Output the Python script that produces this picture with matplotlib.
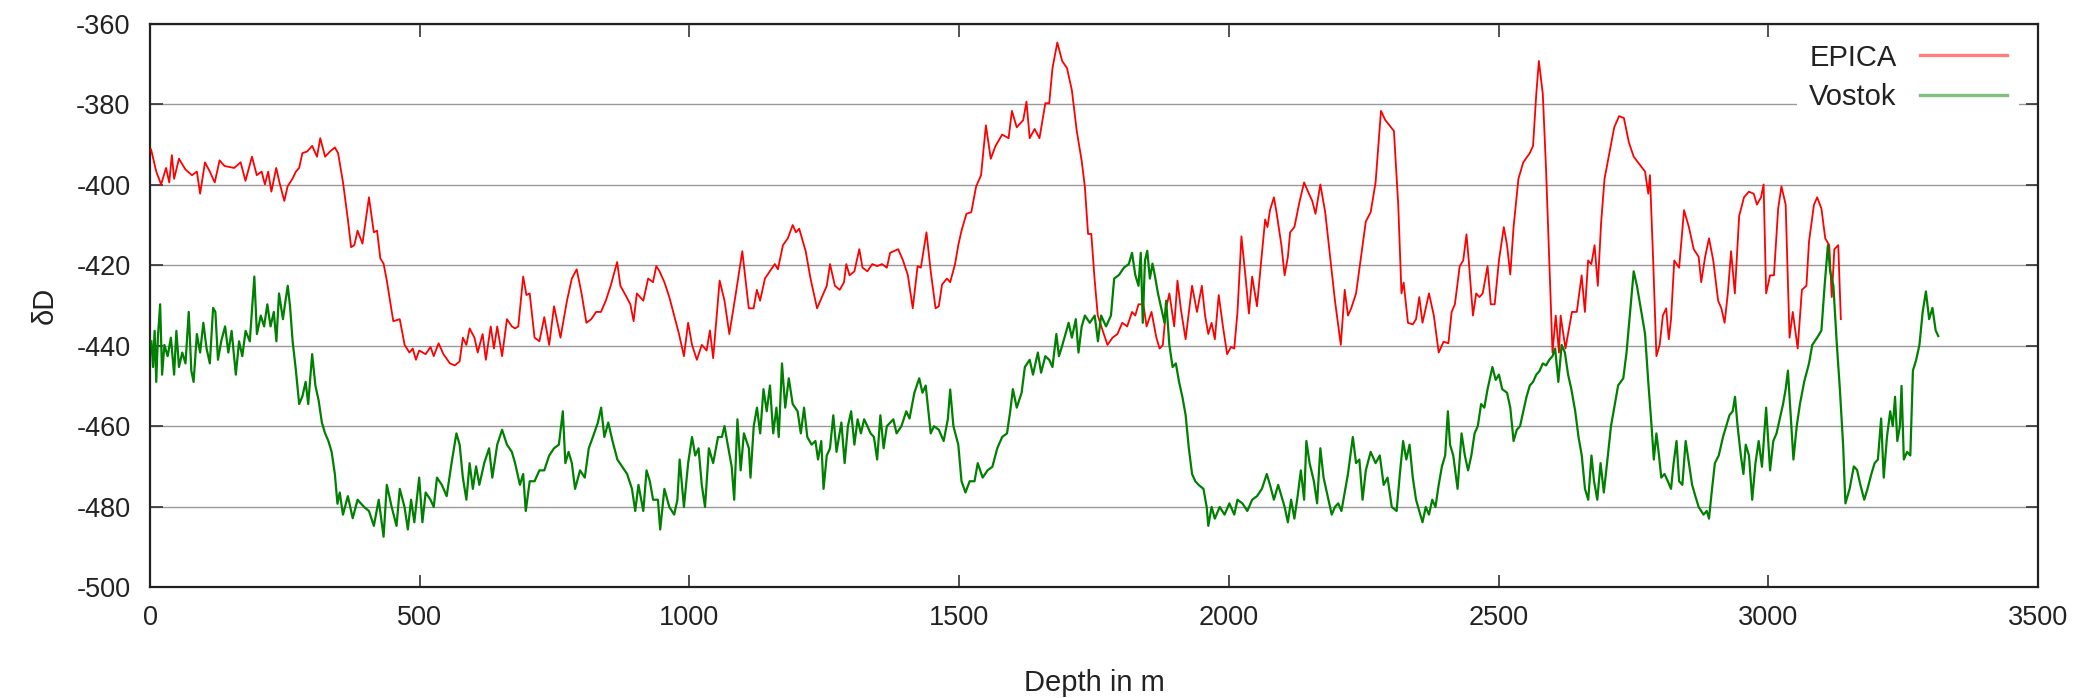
import matplotlib
matplotlib.use("Agg")
import matplotlib.pyplot as plt

plt.rcParams['font.family'] = ['Liberation Sans', 'DejaVu Sans']
plt.rcParams['axes.unicode_minus'] = False

# EPICA Dome C deuterium profile (depth in m, dD)
epica_depth = [
    2, 11.6, 20.6, 29.7, 35.7, 40.5, 44.7, 53.7, 65.8, 77.8, 86.9, 92.9, 101.9, 110.9, 120, 129, 138, 156, 168,
    177, 189, 198, 207, 213, 219, 225, 234, 240, 249, 255, 264, 270.5, 276.5, 282.5, 291.5, 300.6, 309.6, 315.6,
    324.6, 333.7, 342.7, 348.7, 357.8, 366.8, 372.8, 378.8, 384.8, 393.9, 405.9, 414.9, 420.9, 427, 433, 439, 445,
    451, 463, 472, 481, 487, 493, 499, 511, 520, 526, 535, 544, 556, 565, 574, 580, 586.5, 592.5, 601.5, 607.5,
    616.6, 622.6, 631.6, 637.6, 643.7, 652.7, 661.7, 670.8, 676.8, 682.8, 691.8, 697.8, 703.9, 712.9, 721.9, 730.9,
    740, 749, 761, 773, 782, 791, 800, 809, 818, 827, 836, 845, 854, 866, 872, 881.5, 890.5, 896.5, 902.5,
    914.5, 923.5, 932.5, 938.6, 944.6, 953.6, 962.7, 971.7, 980.7, 989.8, 997.6, 1004.8, 1013.8, 1022.9, 1031.9,
    1038, 1044, 1056, 1065, 1074, 1086, 1098, 1110, 1119, 1125, 1131, 1140, 1149, 1158.3, 1164, 1173.4, 1182.4,
    1191.4, 1197.5, 1203.5, 1215.5, 1224.5, 1236.6, 1245.6, 1254.6, 1260.6, 1269.7, 1278.7, 1286.6, 1290.8, 1296.8,
    1305.8, 1314.9, 1320.9, 1329.9, 1338.9, 1348, 1357, 1366, 1372, 1387, 1396, 1405, 1414, 1423, 1429, 1439.4,
    1447.3, 1456.3, 1462.3, 1468.3, 1477.4, 1483.4, 1492.4, 1498.4, 1504.4, 1513.5, 1522.5, 1531.5, 1540.6, 1549.6,
    1558.6, 1567.6, 1579.7, 1591.7, 1597.8, 1606.8, 1618.8, 1624.8, 1630.8, 1639.9, 1648.9, 1659.8, 1667, 1673,
    1682, 1691, 1700, 1709, 1718, 1727, 1733, 1739, 1745, 1751, 1757, 1766, 1775, 1784.4, 1793.4, 1802.4, 1811.5,
    1820.5, 1826.5, 1832.5, 1841.5, 1847.5, 1856.6, 1865.6, 1871.6, 1877.6, 1883.7, 1889.7, 1898.7, 1904.7, 1910.8,
    1919.8, 1931.8, 1940.9, 1949.9, 1955.9, 1961.9, 1968, 1974, 1981.2, 1989, 1996.8, 2004, 2010, 2016, 2023.3,
    2031.2, 2037.2, 2043.2, 2052.2, 2059.4, 2067.3, 2071.5, 2076.3, 2083.5, 2088.3, 2097.4, 2103.4, 2109.4, 2113.6,
    2121.5, 2130.5, 2139.5, 2148.5, 2154.6, 2160.6, 2169.6, 2178.6, 2187.7, 2196.7, 2207.5, 2214.8, 2220.8, 2226.8,
    2235.8, 2244.9, 2253.9, 2262.9, 2272, 2282, 2290, 2306, 2314, 2320, 2324, 2332, 2341, 2347, 2353, 2359, 2365,
    2371, 2380, 2389, 2398, 2407, 2413, 2419, 2428, 2434.5, 2440.5, 2444.7, 2452.5, 2458.5, 2464.6, 2470.6, 2479.6,
    2485.6, 2492.8, 2500.7, 2509.7, 2515.7, 2521.7, 2527.8, 2536.8, 2545.8, 2557.9, 2563.9, 2569.9, 2574.7, 2582,
    2588, 2594, 2600, 2606, 2612, 2615, 2624, 2636, 2645, 2654, 2660, 2666, 2672, 2678, 2684, 2690, 2696.4, 2705.4,
    2714.4, 2723.4, 2732.4, 2741.5, 2750.5, 2771.5, 2777.5, 2780.6, 2786.6, 2792.6, 2798.6, 2804.6, 2810.7, 2815.5,
    2819.7, 2825.7, 2834.7, 2843.8, 2852.8, 2861.8, 2870.9, 2875.7, 2882.9, 2890.1, 2898, 2907, 2913, 2919, 2925,
    2931, 2938, 2946, 2955, 2964, 2973, 2979, 2986.5, 2991.3, 2996, 3003.3, 3010.5, 3018.3, 3024.4, 3032.2, 3039.4,
    3045.4, 3054.5, 3062.3, 3070.7, 3075.5, 3084.6, 3090.6, 3098.5, 3105.6, 3113, 3117.7, 3122.5, 3129.7, 3134.5,
]
epica_dD = [
    -391.2, -396.7, -399.9, -395.8, -399.4, -392.6, -398.5, -393.5, -396.2, -397.6, -396.7, -402.2, -394.4, -396.7,
    -399.4, -393.9, -395.3, -395.8, -394.4, -399, -393, -397.6, -396.7, -399.9, -396.7, -401.7, -395.8, -399.4, -404,
    -400.4, -398.5, -396.7, -395.8, -392.1, -391.7, -390.3, -393, -388.4, -393, -391.7, -390.7, -392.1, -399.4,
    -408.6, -415.5, -415, -411.4, -414.6, -403.1, -411.8, -411.4, -418.3, -419.6, -423.8, -428.8, -433.9, -433.4,
    -439.8, -441.7, -440.7, -443.5, -441.2, -442.1, -440.3, -442.6, -439.4, -442.1, -444.4, -444.9, -443.9, -438,
    -439.8, -435.7, -438, -441.7, -437.1, -443.5, -435.2, -440.7, -435.2, -442.6, -433.4, -435.2, -435.7, -435.2,
    -422.8, -427.4, -427, -438, -438.9, -432.9, -439.8, -430.2, -438, -428.8, -423.3, -421, -427, -434.3, -433.4,
    -431.6, -431.6, -428.8, -425.1, -419.2, -425.1, -427.4, -429.7, -433.9, -427, -428.8, -423.3, -424.2, -420.2,
    -421.5, -424.2, -427.9, -432.5, -437.1, -442.6, -434.3, -439.8, -443.5, -439.8, -441.2, -436.2, -443.1, -423.8,
    -428.8, -437.1, -427, -416.5, -430.7, -430.7, -426.1, -428.8, -423.3, -421.5, -419.7, -421, -415, -413.3, -410,
    -411.8, -410.9, -416.5, -423.3, -430.7, -427.9, -425.1, -419.7, -425.1, -426.1, -424.2, -419.7, -422.5, -421.5,
    -416, -420.6, -421.5, -419.7, -420.2, -419.7, -420.6, -416.9, -416, -418.8, -422.5, -430.7, -420.2, -420.6,
    -411.8, -421.5, -430.7, -430.2, -424.8, -423.3, -424.2, -419.7, -415, -411.4, -407.2, -406.8, -400.4, -397.6,
    -385.2, -393.5, -390.3, -387.5, -388.4, -381.6, -385.7, -383.9, -379.3, -388.4, -386.1, -388.4, -379.7, -379.7,
    -371, -364.6, -369.2, -371, -376.5, -386.6, -393.9, -400.4, -412.2, -412.2, -423.3, -432.5, -436.2, -439.8,
    -438, -437.1, -434.3, -435.2, -431.6, -432.5, -429.7, -429.7, -435.2, -431.6, -438, -440.7, -439.8, -430.7,
    -427, -435.2, -423.8, -430.7, -438.4, -425.1, -431.6, -425.1, -432.5, -437.1, -434.3, -438.4, -427.4, -435.2,
    -442.1, -440.3, -440.7, -431.6, -412.8, -423.3, -432, -422.8, -430.2, -419.7, -408.6, -410.5, -406.3, -403.1,
    -406.8, -415, -422.5, -417.9, -411.8, -410.5, -404.5, -399.4, -402.2, -404, -407.2, -399.9, -406.8, -417.9,
    -428.8, -439.8, -426.1, -432.5, -430.7, -427, -417.9, -409.1, -406.8, -399.4, -381.6, -383.9, -386.6, -405,
    -427, -424.3, -434.3, -434.7, -433.4, -427.9, -434.3, -430.7, -427, -432.5, -441.7, -439, -439.4, -431.6,
    -429.7, -420.2, -418.8, -412.3, -418.8, -432.5, -427, -427.9, -427, -420.2, -429.7, -429.7, -418.8, -410.5,
    -415, -422.3, -410.5, -398.5, -394.4, -392.1, -390.3, -377.4, -369.2, -377.4, -396.1, -418.8, -441.7, -432.5,
    -441.7, -432.5, -440.7, -431.6, -431.6, -422.5, -431.6, -418.8, -419.7, -415, -425.1, -409.6, -398.5, -392.1,
    -385.7, -382.9, -383.4, -389.4, -393, -396.7, -402.2, -397.6, -418.8, -442.6, -439.8, -432.5, -430.7, -438.4,
    -433.4, -418.8, -420.6, -406.3, -410.5, -416, -417.9, -424.2, -417.9, -413.3, -418.8, -428.8, -430.7, -434.3,
    -427, -416.5, -427, -407.7, -403.1, -401.7, -402.2, -404.9, -403.1, -399.9, -427, -422.5, -422.5, -405.9,
    -400.4, -404.9, -438, -431.6, -440.7, -426.1, -425.1, -414.1, -405, -403.1, -405.9, -413.3, -415, -427.9, -416,
    -415, -433.4,
]

# Vostok deuterium profile (depth in m, dD)
vostok_depth = [
    2.6, 5.6, 8.6, 11.6, 14.6, 18.8, 22.4, 26.7, 32.7, 38.7, 44.7, 48.9, 53.7, 59.8, 65.8, 71.8, 76.6, 80.8, 86.9,
    92.9, 98.9, 104.9, 110.9, 117, 121.2, 126, 132, 139.2, 145.2, 151.3, 159.1, 165.1, 171.1, 177.2, 185, 193.4,
    198.2, 205.4, 211.5, 217.5, 223.5, 229.5, 234.3, 239.2, 246.4, 251.2, 255.4, 259.6, 264.4, 270.5, 276.5, 282.5,
    288.5, 293.3, 300.6, 306.6, 312.6, 318.6, 324.6, 330.7, 336.7, 342.7, 347.5, 351.7, 357.7, 366.8, 375.8, 384.8,
    396.9, 405.9, 415, 424, 433, 439, 448, 457, 463, 472, 478, 484, 490, 499, 505, 511, 520, 526, 532, 541, 550,
    559, 568, 574, 580, 586.5, 592.5, 598.5, 604.5, 610.5, 619.6, 628.6, 634.6, 643.7, 652.7, 661.7, 670.8, 676.8,
    685.8, 691.8, 696.6, 703.9, 712.9, 721.9, 730.9, 740, 749, 758, 765.3, 770, 776, 782, 788, 797.2, 806, 813.4,
    821, 830.3, 836.3, 842.3, 849.5, 857.4, 866.4, 875.4, 884.5, 893.5, 899.5, 905.5, 914.5, 920.5, 926.6, 932.6,
    941.6, 945.8, 953.6, 962.7, 971.7, 977.7, 981.9, 989.8, 997.6, 1004.8, 1010.8, 1016.9, 1022.9, 1028.9, 1036.1,
    1044, 1053, 1060.2, 1065, 1071, 1078.3, 1083, 1089, 1095, 1101, 1110.2, 1113.2, 1119.2, 1125.2, 1131.2, 1137.3,
    1143.3, 1149.3, 1155.3, 1161.3, 1165.6, 1171.6, 1177.6, 1184.2, 1191.4, 1200.5, 1206.5, 1212.5, 1218.5, 1226.4,
    1233.6, 1238.4, 1244.4, 1248.6, 1254.6, 1260.6, 1266.7, 1272.7, 1281.7, 1287.7, 1293.8, 1299.8, 1305.8, 1311.8,
    1317.9, 1323.9, 1329.9, 1335.9, 1342, 1348, 1354, 1360, 1366, 1378, 1384, 1393, 1402, 1408, 1417, 1426, 1432,
    1438, 1447.3, 1453.3, 1462.3, 1471.3, 1479, 1483.4, 1489.4, 1498.4, 1504.4, 1511.7, 1519.5, 1528.5, 1534.5,
    1543.6, 1552.6, 1561.6, 1570.7, 1579.7, 1588.7, 1594.7, 1599.6, 1606.8, 1615.8, 1621.8, 1630.8, 1636.9, 1645.9,
    1651.9, 1659.8, 1667, 1673, 1680.2, 1685, 1691, 1697, 1703, 1709, 1716.3, 1721.2, 1727.2, 1733.2, 1742.2,
    1751.3, 1757.3, 1763.3, 1772.3, 1781.4, 1787.4, 1796.4, 1805.4, 1814.5, 1820.5, 1826.5, 1832.5, 1836.7, 1840.4,
    1844.5, 1848.7, 1853.6, 1858.4, 1862.6, 1868.6, 1874.6, 1880.7, 1883.7, 1889.7, 1895.7, 1901.7, 1907.7, 1913.8,
    1919.8, 1925.8, 1931.8, 1937.8, 1943.9, 1952.9, 1958.9, 1961.9, 1968, 1974, 1983, 1992, 2001, 2010, 2016,
    2025.1, 2034.2, 2043.2, 2052.2, 2061.2, 2070.3, 2076.3, 2083.5, 2091.4, 2097.4, 2103.4, 2109.4, 2115.4, 2121.5,
    2127.5, 2133.5, 2139.5, 2143.7, 2149.7, 2157.6, 2163.6, 2169.6, 2175.6, 2181.6, 2190.7, 2196.7, 2202.7, 2208.7,
    2214.8, 2220.8, 2229.8, 2235.8, 2241.9, 2247.9, 2253.9, 2262.9, 2272, 2279.8, 2287, 2294.2, 2302, 2311, 2317,
    2323, 2329, 2335, 2341, 2347, 2353, 2359, 2365, 2371, 2377, 2383, 2389, 2395, 2401, 2406, 2410, 2416, 2424,
    2431.4, 2437.5, 2443.5, 2449.5, 2455.5, 2461.5, 2467.6, 2473.6, 2479.6, 2488.6, 2494.7, 2500.7, 2506.7, 2515.7,
    2521.7, 2527.8, 2533.8, 2539.8, 2545.8, 2551.8, 2557.9, 2563.9, 2569.9, 2575.9, 2582, 2588, 2594, 2600, 2604.8,
    2610.8, 2616.9, 2622.9, 2628.9, 2634.9, 2642.1, 2648.2, 2654.2, 2660.2, 2666.2, 2672.2, 2677, 2683, 2689.1,
    2695.1, 2701.1, 2708.4, 2715.6, 2721.6, 2731.2, 2737.2, 2743.3, 2750.5, 2756.5, 2771.5, 2777.5, 2783.6, 2787.8,
    2792.6, 2797.4, 2801.6, 2807.6, 2813.7, 2819.7, 2824.5, 2829.9, 2834.7, 2840.7, 2846.8, 2852.8, 2858.8, 2864.8,
    2870.9, 2879.9, 2885.9, 2890.1, 2895, 2901, 2908.2, 2916, 2922, 2928, 2934, 2938.3, 2943.1, 2949.1, 2953.9,
    2958.2, 2964.2, 2970.2, 2976.2, 2982.2, 2988.3, 2996, 3003.3, 3009.3, 3015.3, 3021.4, 3027.4, 3032.2, 3036.4,
    3040.6, 3046.6, 3052.7, 3058.7, 3066.5, 3075.5, 3081.5, 3090.6, 3098.5, 3104.4, 3110.5, 3114.7, 3120.7, 3126.7,
    3132.7, 3138.7, 3143, 3150.8, 3158.6, 3164.6, 3170.7, 3177.9, 3183.9, 3191.1, 3197.1, 3203.2, 3209.2, 3214,
    3220, 3226, 3230.8, 3235, 3239.2, 3244, 3247, 3251.3, 3257.3, 3263.3, 3268.1, 3274.2, 3280.2, 3286.2, 3292.2,
    3298.2, 3304.3, 3310.3, 3315.1,
]
vostok_dD = [
    -438.9, -445.3, -436.3, -449, -438, -429.7, -447.2, -439.8, -442.6, -438, -447.2, -436.3, -445.3, -441.7, -444.4,
    -431.6, -446.2, -449, -437.1, -441.7, -434.3, -440.7, -444.4, -430.6, -431.6, -443.5, -438.9, -435.2, -441.7,
    -436.3, -447.2, -438.9, -442.6, -436.3, -438.9, -422.8, -437.1, -432.5, -435.2, -429.7, -435.2, -431.6, -438.9,
    -427, -433.4, -428.8, -425.1, -430.2, -438.9, -446.2, -454.5, -452.6, -449, -454.5, -442.1, -449.9, -453.6,
    -459.1, -461.8, -463.7, -466.4, -471.9, -479.3, -476.5, -482, -477.4, -482.9, -478.3, -480.1, -481.1, -484.8,
    -478.3, -487.5, -474.6, -480.1, -484.8, -475.6, -480.2, -485.7, -478.3, -483.9, -472.8, -483.9, -476.5, -478.3,
    -480.1, -472.8, -474.6, -477.4, -469.2, -461.8, -464.6, -472.8, -478.3, -469.2, -475.6, -470, -474.6, -469.2,
    -465.5, -472.8, -464.6, -460.9, -464.6, -466.4, -469.2, -474.6, -471.9, -481.1, -473.7, -473.7, -471, -471,
    -467.3, -465.5, -464.6, -456.3, -469.2, -466.4, -469.2, -475.6, -471, -472.8, -465.5, -462.7, -459.1, -455.4,
    -462.7, -459.1, -463.7, -468.3, -470.1, -471.9, -475.6, -481.1, -474.6, -481.1, -471, -473.7, -478.3, -478.3,
    -485.7, -475.6, -480.1, -482, -478.3, -468.3, -480.1, -469.2, -462.7, -467.3, -465.5, -474.6, -480.1, -465.5,
    -469.2, -462.7, -462.7, -460, -464.6, -470, -478.3, -458.3, -471, -461.8, -465.5, -472.8, -460, -455.4, -461.8,
    -450.8, -456.3, -449.9, -461.8, -455.4, -462.7, -444.4, -455.4, -448.1, -454.5, -456.3, -461.8, -455.4, -462.7,
    -464.6, -463.7, -468.3, -463.7, -475.6, -467.3, -465.5, -457.3, -466.4, -459.1, -469.2, -460, -456.3, -464.6,
    -458.3, -461.8, -458.3, -460, -461.8, -462.7, -468.3, -457.3, -465.5, -460, -458.3, -461.8, -460, -456.3,
    -458.1, -451.7, -448.1, -451.7, -449.9, -461.8, -460, -460.9, -463.7, -458.3, -450.9, -460, -464.6, -473.7,
    -476.5, -473.7, -473.7, -469.2, -472.8, -471, -470.1, -465.5, -462.7, -461.8, -456.3, -450.8, -455.4, -451.7,
    -445.3, -443.5, -447.2, -441.7, -446.7, -442.6, -443.5, -445.3, -437.1, -442.6, -440, -437.1, -434.3, -438,
    -433.4, -441.7, -435.2, -432.5, -434.3, -432.5, -438.9, -432.5, -435.2, -432.5, -423.3, -422.4, -420.6, -419.7,
    -416.9, -422.4, -425.1, -416.9, -434.3, -418.8, -416.4, -423.3, -419.6, -422.4, -427, -430.6, -434.3, -428.8,
    -439.8, -445.3, -444.4, -449, -452.7, -457.2, -465.5, -471.9, -473.7, -474.6, -475.6, -480.1, -484.8, -480.1,
    -483, -480.1, -482, -479.2, -482, -478.3, -479.2, -481.1, -478.3, -477.4, -475.6, -471.9, -474.6, -478.3,
    -474.6, -477.4, -480.1, -483.9, -478.3, -483, -477.4, -471, -478.3, -463.7, -469.2, -473.7, -479.2, -465.5,
    -472.8, -476.5, -482, -480.1, -479.2, -481.1, -476.5, -471.9, -462.7, -469.2, -468.3, -478.3, -471, -466.4,
    -469.2, -467.3, -474.6, -472.8, -480.1, -481.1, -471.9, -463.7, -468.3, -464.6, -472.8, -478.3, -481.1, -483.9,
    -480.1, -482, -478.3, -480.1, -474.6, -470, -467.3, -456.3, -464.6, -467.3, -475.6, -461.8, -467.3, -471,
    -467.3, -461.8, -460, -454.5, -455.4, -450.8, -445.3, -448.5, -447.2, -450.8, -451.7, -455.4, -463.7, -460.9,
    -460, -456.3, -452.7, -449.9, -449, -447.2, -446.3, -444.4, -444.9, -443.5, -442.6, -440.7, -449, -439.8,
    -441.7, -447.2, -450.8, -456.3, -462.7, -467.3, -475.6, -478.3, -467.3, -473.7, -478.3, -469.2, -476.5, -469.2,
    -460, -454.5, -449.9, -448.1, -441.7, -432.5, -421.5, -425.1, -437, -449, -460, -468.3, -461.8, -467.3, -472.8,
    -471.9, -473.7, -475.6, -469.2, -463.7, -473.7, -474.6, -463.7, -469.2, -474.6, -477.4, -480.1, -482, -481.1,
    -483, -476.5, -469.2, -467.3, -462.7, -460, -457.3, -456.3, -452.7, -460, -467.3, -471.9, -464.6, -467.3,
    -478.3, -469.2, -463.7, -470.1, -455.4, -471, -463.7, -461.8, -458.1, -454.5, -450.8, -446.2, -455.4, -468.3,
    -460, -454.5, -449, -444.4, -439.8, -438, -436.2, -425.1, -415, -421.5, -425.1, -438.9, -450.8, -464.6, -479.2,
    -475.6, -470, -470.9, -474.6, -478.3, -475.6, -471.9, -469.2, -468.3, -458.1, -472.8, -462.7, -456.3, -460,
    -452.7, -463.7, -460, -450, -468.3, -466.4, -467.3, -446.2, -443.5, -439.8, -431.6, -426.5, -433.4, -430.6,
    -436.2, -437.6,
]

x_ticks = [0, 500, 1000, 1500, 2000, 2500, 3000, 3500]
y_ticks = [-500, -480, -460, -440, -420, -400, -380, -360]

fig = plt.figure(figsize=(20.78, 6.98), dpi=100)
ax = fig.add_axes([150 / 2078, 1 - 587 / 698, 1888 / 2078, 563 / 698])

ax.plot(epica_depth, epica_dD, color='#ff0000', lw=1.3, label='EPICA', zorder=3)
ax.plot(vostok_depth, vostok_dD, color='#008000', lw=1.6, label='Vostok', zorder=3)

ax.set_xlim(0, 3500)
ax.set_ylim(-500, -360)
ax.set_xticks(x_ticks)
ax.set_yticks(y_ticks)
ax.yaxis.grid(True, color='#999999', lw=1.0)
ax.set_axisbelow(True)

txt = '#222222'
ax.tick_params(axis='both', direction='in', length=9, width=1.2, color='#333333',
               labelsize=19.5, labelcolor=txt, top=True, right=True)
ax.tick_params(axis='x', pad=13)
ax.tick_params(axis='y', pad=14)
for s in ax.spines.values():
    s.set_linewidth(1.6)
    s.set_color('#222222')

ax.set_xlabel('Depth in m', fontsize=21, color=txt)
ax.xaxis.set_label_coords(0.5, -0.145)
ax.set_ylabel('\u03b4D', fontsize=21, color=txt, va='center')
ax.yaxis.set_label_coords(-0.056, 0.5)

# opaque key box, like gnuplot's, hides the grid line behind it
leg = ax.legend(loc='upper right', bbox_to_anchor=(0.9899, 0.9858), frameon=True, markerfirst=False,
                fontsize=21, handlelength=3.0, handletextpad=0.8, labelspacing=0.39,
                borderaxespad=0, borderpad=0.4, fancybox=False)
leg.get_frame().set_facecolor('white')
leg.get_frame().set_edgecolor('none')
leg.get_frame().set_alpha(1)
leg.set_zorder(5)
for t in leg.get_texts():
    t.set_color(txt)
for l in leg.get_lines():
    l.set_alpha(0.5)
    l.set_linewidth(2.4)

fig.savefig('out.png', dpi=100)
